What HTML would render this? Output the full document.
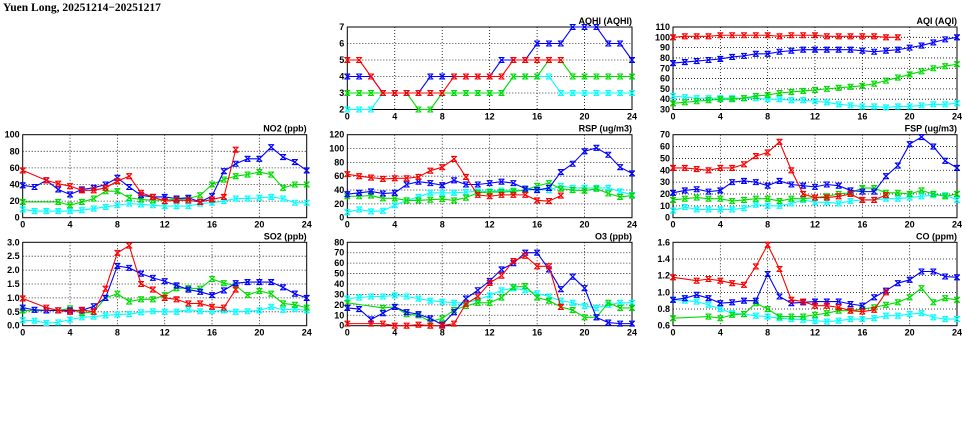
<!DOCTYPE html>
<html><head><meta charset="utf-8">
<style>
body{margin:0;background:#fff;width:975px;height:447px;overflow:hidden}
svg{display:block}
text{font-family:"Liberation Sans",sans-serif;font-weight:bold;font-size:9px;fill:#000}
</style></head><body>
<svg id="chart" width="975" height="447" xmlns="http://www.w3.org/2000/svg">
<text x="3" y="11" style="font-family:'Liberation Serif',serif;font-size:11.5px">Yuen Long, 20251214−20251217</text>
</svg>
<script>
const hours = [0,4,8,12,16,20,24];
const colNames = ['blue','red','green','cyan'];
const colors = {blue:'#0000ff',red:'#ff0000',green:'#00dd00',cyan:'#00ffff'};

const aqhiTicks=[2,3,4,5,6,7];
const aqhiBlue=[4,4,4,3,3,3,3,4,4,4,4,4,4,5,5,5,6,6,6,7,7,7,6,6,5];
const aqhiRed=[5,5,4,3,3,3,3,3,3,4,4,4,4,4,5,5,5,5,5];
const aqhiGreen=[3,3,3,3,3,3,2,2,3,3,3,3,3,3,4,4,4,5,5,4,4,4,4,4,4];
const aqhiCyan=[2,2,2,3,3,3,3,3,3,3,3,3,3,3,4,4,4,4,3,3,3,3,3,3,3];

const aqiTicks=[30,40,50,60,70,80,90,100,110];
const aqiBlue=[75,76,77,78,79,81,82,84,84,86,87,88,88,88,88,88,87,86,87,88,90,92,95,98,100];
const aqiRed=[100,101,101,101,102,102,102,102,102,101,102,102,102,101,101,101,101,101,100,100];
const aqiGreen=[36,37,38,39,40,40,41,43,44,46,47,48,49,50,51,52,53,55,58,61,64,67,70,72,74];
const aqiCyan=[43,42,41,41,41,41,41,41,40,40,39,39,38,37,35,34,33,33,32,33,33,34,35,35,36];

const no2Ticks=[0,20,40,60,80,100];
const no2Blue=[39,37,45,34,28,34,36,40,48,37,27,25,25,23,24,19,26,56,65,71,71,85,73,67,57];
const no2Red=[57,null,45,41,38,33,33,36,44,50,30,25,20,21,21,19,22,25,82];
const no2Green=[19,null,null,19,15,19,23,32,32,24,22,21,null,22,23,27,40,46,50,52,55,52,36,40,40];
const no2Cyan=[10,8,8,8,8,9,11,13,15,17,16,15,14,14,14,17,18,20,23,23,24,25,23,18,18];

const rspTicks=[0,20,40,60,80,100,120];
const rspBlue=[34,36,38,35,36,48,52,50,47,54,48,48,50,52,50,42,40,43,66,78,96,101,91,73,64];
const rspRed=[63,60,58,56,57,57,59,68,73,85,59,33,31,33,33,33,25,24,32];
const rspGreen=[31,31,32,28,28,25,25,26,27,25,29,36,37,37,38,40,46,50,42,40,39,42,35,30,32];
const rspCyan=[8,12,9,10,18,25,30,36,36,36,37,38,38,39,39,40,41,40,46,43,43,43,43,38,33];

const fspTicks=[0,10,20,30,40,50,60,70];
const fspBlue=[21,23,24,22,23,30,31,30,27,31,28,27,26,28,27,23,22,22,35,44,62,68,60,48,42];
const fspRed=[42,42,41,40,42,42,45,52,55,64,40,20,17,17,18,20,15,15,19];
const fspGreen=[15,16,17,16,16,14,15,16,16,14,16,16,17,18,20,21,25,25,21,21,20,23,20,18,20];
const fspCyan=[6,9,7,7,7,7,8,11,10,10,12,15,13,13,12,14,15,15,16,16,17,18,19,19,15];

const so2Ticks=[0,0.5,1,1.5,2,2.5,3];
const so2Blue=[0.65,0.57,0.55,0.55,0.55,0.55,0.7,1.0,2.15,2.08,1.87,1.72,1.6,1.45,1.3,1.22,1.1,1.27,1.53,1.57,1.57,1.57,1.38,1.15,1.0];
const so2Red=[0.98,null,0.65,0.55,0.5,0.57,0.5,1.33,2.62,2.88,1.5,1.3,1.0,0.95,0.8,0.8,0.68,0.65,1.3];
const so2Green=[0.55,null,null,0.55,0.62,0.45,0.5,1.0,1.15,0.87,0.95,0.95,1.1,1.35,1.35,1.33,1.68,1.53,1.45,1.1,1.25,1.15,0.8,0.75,0.65];
const so2Cyan=[0.2,0.18,0.1,0.12,0.22,0.3,0.33,0.37,0.4,0.42,0.48,0.52,0.5,0.5,0.58,0.52,0.52,0.55,0.5,0.52,0.55,0.68,0.57,0.6,0.55];

const o3Ticks=[0,10,20,30,40,50,60,70,80];
const o3Blue=[17,16,6,12,18,13,11,7,1,13,26,34,43,54,60,70,70,54,35,47,36,8,3,2,2];
const o3Red=[2,null,2,2,0,0,1,0,0,2,21,28,41,48,62,67,57,57,18];
const o3Green=[22,null,null,17,18,11,10,4,7,15,19,22,22,27,37,38,27,24,18,15,8,8,22,17,17];
const o3Cyan=[26,27,28,28,29,28,26,24,23,22,22,25,29,34,36,34,31,28,24,22,19,17,20,22,22];

const coTicks=[0.6,0.8,1.0,1.2,1.4,1.6];
const coBlue=[0.91,0.93,0.97,0.93,0.87,0.88,0.9,0.9,1.22,0.95,0.87,0.88,0.89,0.89,0.89,0.86,0.84,0.94,1.02,1.11,1.15,1.25,1.25,1.19,1.18];
const coRed=[1.18,null,1.14,1.16,1.14,1.11,1.09,1.31,1.57,1.28,0.91,0.89,0.84,0.84,0.82,0.78,0.77,0.79,1.0];
const coGreen=[0.69,null,null,0.71,0.69,0.73,0.74,0.87,0.8,0.71,0.71,0.71,0.73,0.75,0.78,0.78,0.8,0.82,0.85,0.88,0.94,1.05,0.88,0.93,0.91];
const coCyan=[0.91,0.9,0.89,0.85,0.8,0.75,0.74,0.72,0.71,0.69,0.68,0.67,0.66,0.65,0.66,0.68,0.68,0.69,0.72,0.72,0.74,0.75,0.7,0.68,0.68];

const panels=[
 {id:'aqhi',title:'AQHI (AQHI)',ticks:aqhiTicks,fmt:v=>v,col:1,row:0,s:[aqhiBlue,aqhiRed,aqhiGreen,aqhiCyan]},
 {id:'aqi',title:'AQI (AQI)',ticks:aqiTicks,fmt:v=>v,col:2,row:0,s:[aqiBlue,aqiRed,aqiGreen,aqiCyan]},
 {id:'no2',title:'NO2 (ppb)',ticks:no2Ticks,fmt:v=>v,col:0,row:1,s:[no2Blue,no2Red,no2Green,no2Cyan]},
 {id:'rsp',title:'RSP (ug/m3)',ticks:rspTicks,fmt:v=>v,col:1,row:1,s:[rspBlue,rspRed,rspGreen,rspCyan]},
 {id:'fsp',title:'FSP (ug/m3)',ticks:fspTicks,fmt:v=>v,col:2,row:1,s:[fspBlue,fspRed,fspGreen,fspCyan]},
 {id:'so2',title:'SO2 (ppb)',ticks:so2Ticks,fmt:v=>v.toFixed(1),col:0,row:2,s:[so2Blue,so2Red,so2Green,so2Cyan]},
 {id:'o3',title:'O3 (ppb)',ticks:o3Ticks,fmt:v=>v,col:1,row:2,s:[o3Blue,o3Red,o3Green,o3Cyan]},
 {id:'co',title:'CO (ppm)',ticks:coTicks,fmt:v=>v.toFixed(1),col:2,row:2,s:[coBlue,coRed,coGreen,coCyan]}
];
const colX=[[22.7,306.7],[347.3,632],[673,957]];
const rowY=[[27,109.5],[134.7,217.7],[242.3,325.7]];
const svg=document.getElementById('chart');
const NS='http://www.w3.org/2000/svg';
function mk(tag,attrs,parent){const e=document.createElementNS(NS,tag);for(const k in attrs)e.setAttribute(k,attrs[k]);parent.appendChild(e);return e;}

panels.forEach(p=>{
 const [x0,x1]=colX[p.col],[yt,yb]=rowY[p.row];
 const lo=p.ticks[0],hi=p.ticks[p.ticks.length-1];
 const xs=h=>x0+(x1-x0)*h/24;
 const ys=v=>yb-(yb-yt)*(v-lo)/(hi-lo);
 const g=mk('g',{},svg);
 
 
 p.ticks.forEach((t,i)=>{
  const y=ys(t);
  if(i>0&&i<p.ticks.length-1){const l=mk('line',{x1:x0,x2:x1,y1:y,y2:y,stroke:'#000','stroke-width':0.8,'stroke-dasharray':'1,2'},g);
   }
  const tx=mk('text',{x:x0-3,y:y+3,'text-anchor':'end'},g);tx.textContent=p.fmt(t);
  
 });
 hours.forEach((h,i)=>{
  const x=xs(h);
  if(i>0&&i<hours.length-1){const l=mk('line',{x1:x,x2:x,y1:yt,y2:yb,stroke:'#000','stroke-width':0.8,'stroke-dasharray':'1,2'},g);
   }
  const tx=mk('text',{x:x,y:yb+10,'text-anchor':'middle'},g);tx.textContent=h;
  
 });
 const fr=mk('rect',{x:x0,y:yt,width:x1-x0,height:yb-yt,fill:'none',stroke:'#000','stroke-width':1},g);
 
 const tt=mk('text',{x:x1,y:yt-3,'text-anchor':'end'},g);tt.textContent=p.title;
 
 [3,2,0,1].forEach(si=>{
  const arr=p.s[si],c=colors[colNames[si]];
  const sg=mk('g',{},g);
  
  
  const pts=[];arr.forEach((v,h)=>{if(v!==null)pts.push([xs(h),ys(v)]);});
  mk('polyline',{points:pts.map(q=>q.join(',')).join(' '),fill:'none',stroke:c,'stroke-width':1.1},sg);
  pts.forEach(([x,y])=>{
   const m=mk('path',{d:`M${x-2.5},${y-2.5}L${x+2.5},${y+2.5}M${x-2.5},${y+2.5}L${x+2.5},${y-2.5}M${x-3},${y-2.5}L${x+3},${y-2.5}M${x-3},${y+2.5}L${x+3},${y+2.5}`,stroke:c,'stroke-width':1.1},sg);
   
   
  });
 });
});
</script>
</body></html>
